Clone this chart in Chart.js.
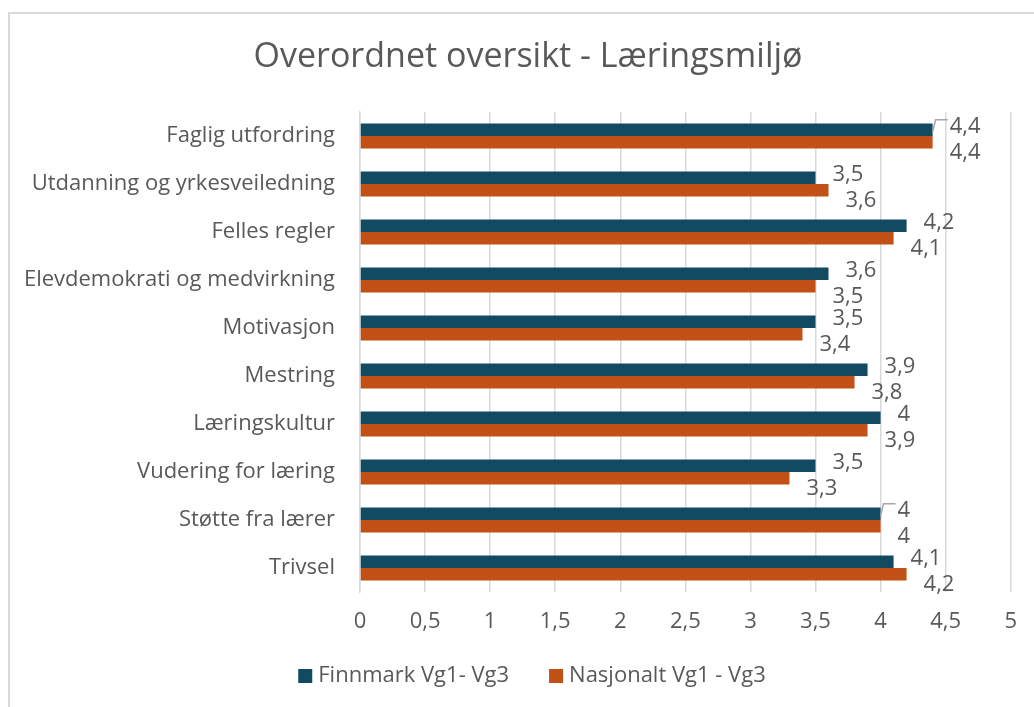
<!DOCTYPE html>
<html>
<head>
<meta charset="utf-8">
<script src="https://cdn.jsdelivr.net/npm/chart.js@4.4.1/dist/chart.umd.min.js"></script>
<style>
  html, body { margin: 0; padding: 0; background: #fff; overflow: hidden; }
  #wrap { position: relative; width: 1034px; height: 707px; }
  #ramme { position: absolute; left: 8px; top: 12px; width: 1100px; height: 800px; border: 2px solid #d9d9d9; box-sizing: border-box; }
  canvas { position: absolute; left: 0; top: 0; }
</style>
</head>
<body>
<div id="wrap">
  <div id="ramme"></div>
  <canvas id="myChart" width="1034" height="707"></canvas>
</div>
<script>
// Kategorier og verdier lest av figuren
const kategorier = ['Faglig utfordring', 'Utdanning og yrkesveiledning', 'Felles regler', 'Elevdemokrati og medvirkning',
    'Motivasjon', 'Mestring', 'Læringskultur', 'Vudering for læring', 'Støtte fra lærer', 'Trivsel'];
const finnmark = [4.4, 3.5, 4.2, 3.6, 3.5, 3.9, 4.0, 3.5, 4.0, 4.1];
const nasjonalt = [4.4, 3.6, 4.1, 3.5, 3.4, 3.8, 3.9, 3.3, 4.0, 4.2];
const aksemerker = [0, 0.5, 1, 1.5, 2, 2.5, 3, 3.5, 4, 4.5, 5];

const fontNavn = '"Open Sans", sans-serif';
const tekstFarge = '#595959';
const komma = v => String(v).replace('.', ',');

// Tittel tegnes selv for å få riktig plassering
const tittelPlugin = {
    id: 'tittel',
    afterDraw(chart) {
        const c = chart.ctx;
        c.save();
        c.font = '34px ' + fontNavn;
        c.fillStyle = tekstFarge;
        c.textAlign = 'center';
        c.textBaseline = 'middle';
        c.fillText('Overordnet oversikt - Læringsmiljø', 528, 57);
        c.restore();
    }
};

// Forklaring under aksen, sentrert litt til høyre som i originalen
const forklaringPlugin = {
    id: 'forklaring',
    afterDraw(chart) {
        const c = chart.ctx;
        c.save();
        c.font = '22px ' + fontNavn;
        c.textBaseline = 'middle';
        c.textAlign = 'left';
        const ds = chart.data.datasets;
        const bredder = ds.map(d => 20 + c.measureText(d.label).width);
        const total = bredder[0] + 40 + bredder[1];
        let x = 532 - total / 2;
        const y = 676;
        ds.forEach((d, i) => {
            c.fillStyle = d.backgroundColor;
            c.fillRect(x, y - 7, 14, 14);
            c.fillStyle = tekstFarge;
            c.fillText(d.label, x + 20, y);
            x += bredder[i] + 40;
        });
        c.restore();
    }
};

// Dataetiketter ved enden av stolpene
const etikettPlugin = {
    id: 'etiketter',
    afterDatasetsDraw(chart) {
        const c = chart.ctx;
        c.save();
        c.font = '22px ' + fontNavn;
        c.fillStyle = tekstFarge;
        c.textBaseline = 'middle';
        c.textAlign = 'left';
        chart.data.datasets.forEach((ds, di) => {
            const meta = chart.getDatasetMeta(di);
            meta.data.forEach((bar, i) => {
                const verdi = ds.data[i];
                const annen = chart.data.datasets[1 - di].data[i];
                const x = bar.x + 17;
                const y = di === 0 ? bar.y - 3 : bar.y + 10;
                // ledelinje når etikettene ligger tett
                if (di === 0 && Math.abs(verdi - annen) <= 0.1) {
                    c.strokeStyle = '#a6a6a6';
                    c.lineWidth = 1.5;
                    c.beginPath();
                    c.moveTo(bar.x, bar.y + 2);
                    c.lineTo(bar.x + 3, y - 7);
                    c.lineTo(bar.x + 15, y - 7);
                    c.stroke();
                }
                c.fillText(komma(verdi), x, y);
            });
        });
        c.restore();
    }
};

const ctx = document.getElementById('myChart').getContext('2d');

const myChart = new Chart(ctx, {
    type: 'bar',
    data: {
        labels: kategorier,
        datasets: [{
            label: 'Finnmark Vg1- Vg3',
            data: finnmark,
            backgroundColor: '#124a62'
        }, {
            label: 'Nasjonalt Vg1 - Vg3',
            data: nasjonalt,
            backgroundColor: '#c15117'
        }]
    },
    options: {
        indexAxis: 'y',
        responsive: false,
        animation: false,
        layout: {
            padding: { top: 112, left: 20, right: 23, bottom: 71 }
        },
        datasets: {
            bar: { categoryPercentage: 0.52, barPercentage: 1.0 }
        },
        scales: {
            x: {
                min: 0,
                max: 5,
                afterBuildTicks(scale) {
                    scale.ticks = aksemerker.map(v => ({ value: v }));
                },
                afterFit(scale) {
                    scale.height = 44;
                },
                grid: { color: '#d9d9d9', lineWidth: 1.5, drawTicks: false },
                border: { display: false },
                ticks: {
                    color: tekstFarge,
                    font: { family: fontNavn, size: 22 },
                    padding: 17,
                    callback: v => komma(v)
                }
            },
            y: {
                afterFit(scale) {
                    scale.width = 340;
                },
                grid: { display: false },
                border: { display: true, color: '#d9d9d9', width: 1.5 },
                ticks: {
                    color: tekstFarge,
                    font: { family: fontNavn, size: 22 },
                    padding: 17
                }
            }
        },
        plugins: {
            legend: { display: false },
            tooltip: { enabled: false }
        }
    },
    plugins: [tittelPlugin, etikettPlugin, forklaringPlugin]
});
</script>
</body>
</html>
